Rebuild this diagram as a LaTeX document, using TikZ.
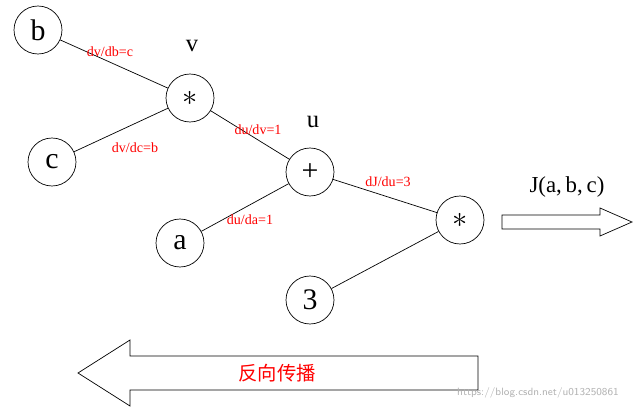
\documentclass[tikz,border=0pt]{standalone}
\usepackage{fontspec}
\setmainfont{Liberation Serif}
\newfontfamily\cjk{Noto Sans CJK SC}
\begin{document}
\begin{tikzpicture}[x=0.02cm,y=-0.02cm,
 nd/.style={draw,circle,minimum size=0.96cm,inner sep=0pt,font=\fontsize{17}{17}\selectfont},
 lb/.style={text=red,font=\fontsize{8}{8}\selectfont},
 ln/.style={draw,thin}]
\useasboundingbox (0,0) rectangle (643,412);
\node[nd] (b) at (38,30) {b};
\node[nd] (v) at (190,98) {$\ast$};
\node[nd] (c) at (52,162) {c};
\node[nd] (u) at (310,172) {+};
\node[nd] (a) at (180,243) {a};
\node[nd] (j) at (460,220) {$\ast$};
\node[nd] (t) at (310,300) {3};
\draw (b)--(v) (c)--(v) (v)--(u) (a)--(u) (u)--(j) (t)--(j);
\node[lb] (l1) at (110,52) {dv/db=c};
\node[lb] (l2) at (135,148) {dv/dc=b};
\node[lb] (l3) at (258,130) {du/dv=1};
\node[lb] (l4) at (388,182) {dJ/du=3};
\node[lb] (l5) at (250,220) {du/da=1};
\node[font=\fontsize{14}{14}\selectfont] (vl) at (192,46) {v};
\node[font=\fontsize{14}{14}\selectfont] (ul) at (313,122) {u};
\node[font=\fontsize{13}{13}\selectfont] (jl) at (567,187) {J(a,\,b,\,c)};
\draw (502,215)--(600,215)--(600,208)--(632,222)--(600,236)--(600,229)--(502,229)--cycle;
\draw (478,356)--(130,356)--(130,340)--(78,373)--(130,406)--(130,390)--(478,390)--cycle;
\node[text=red,font=\cjk\fontsize{11}{11}\selectfont] (cn) at (277,373) {反向传播};
\node[text=gray!60,font=\sffamily\fontsize{6}{6}\selectfont] (wm) at (538,393) {https://blog.csdn.net/u013250861};
\end{tikzpicture}
\end{document}
